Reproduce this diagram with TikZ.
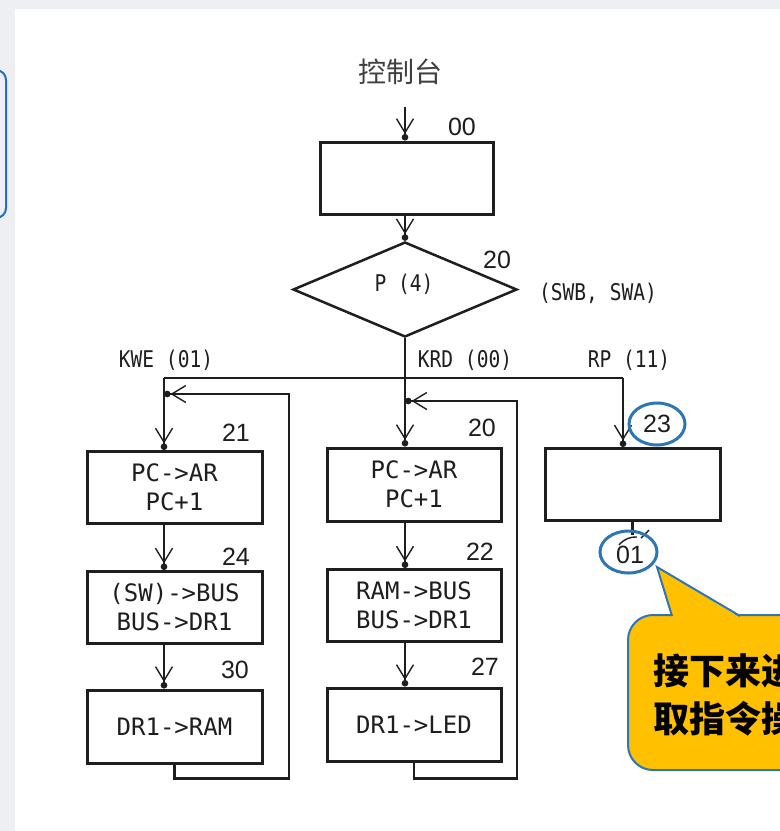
\documentclass[tikz,border=0pt]{standalone}
\usepackage{fontspec}
\usetikzlibrary{arrows.meta,shapes.geometric,calc}
\newfontfamily\cjkfont{Noto Sans CJK SC}
\newfontfamily\boxfont{DejaVu Sans Mono}
\newfontfamily\lblfont[FakeStretch=0.85]{DejaVu Sans Mono}
\newfontfamily\numfont{Liberation Sans}
\definecolor{ink}{HTML}{1E1E1E}
\definecolor{bggray}{HTML}{EDEFF2}
\definecolor{hiblue}{HTML}{2E75B6}
\definecolor{callyel}{HTML}{FFC000}
\definecolor{frameblue}{HTML}{1F6FCC}
\begin{document}
\begin{tikzpicture}[x=1pt,y=-1pt,
  stepbox/.style={draw=ink, line width=3pt, minimum width=175pt, minimum height=72pt, inner sep=0pt, align=center, font=\boxfont\fontsize{24}{29}\selectfont, text=ink},
  flow/.style={draw=ink, line width=2.5pt},
  arr/.style={flow, -{Straight Barb[length=14pt,width=17pt,line width=1.4pt]Circle[length=6.5pt]}},
  num/.style={font=\numfont\fontsize{25}{25}\selectfont, text=ink, inner sep=0pt},
  lbl/.style={font=\lblfont\fontsize{23}{23}\selectfont, text=ink, inner sep=0pt},
  ring/.style={draw=hiblue, line width=3pt},
]
\useasboundingbox (0,0) rectangle (780,831);
\clip (0,0) rectangle (780,831);
% background
\fill[bggray] (0,0) rectangle (780,831);
\fill[white] (15,9) rectangle (781,832);
\draw[frameblue, line width=2pt, rounded corners=10pt] (-30,70) rectangle (6,218);

% title
\node[font=\cjkfont\fontsize{28}{28}\selectfont, text=ink!85] (title) at (400,72) {控制台};

% boxes
\node[stepbox, minimum width=173pt] (b00) at (406.5,178) {};
\node[draw=ink, line width=2.5pt, shape=diamond, minimum width=224pt, minimum height=95pt, inner sep=0pt] (dia) at (405,289.5) {};
\node[lbl] (p4) at (404,284) {P (4)};

\node[stepbox] (b21) at (174.5,487.5) {PC->AR\\PC+1};
\node[stepbox] (b24) at (174.5,607.5) {(SW)->BUS\\BUS->DR1};
\node[stepbox, minimum height=73pt] (b30) at (174.5,726.5) {DR1->RAM};

\node[stepbox, minimum width=174pt, minimum height=73pt] (b20) at (414,484.5) {PC->AR\\PC+1};
\node[stepbox, minimum width=174pt] (b22) at (414,605.5) {RAM->BUS\\BUS->DR1};
\node[stepbox, minimum width=174pt, minimum height=73pt] (b27) at (414,724.5) {DR1->LED};

\node[stepbox] (b23) at (632.5,484.5) {};

% numbers
\node[num] (n00) at (462,127) {00};
\node[num] (n20a) at (497,260) {20};
\node[num] (n21) at (236,433) {21};
\node[num] (n20b) at (482,428) {20};
\node[num] (n23) at (657,424) {23};
\node[num] (n24) at (236,557) {24};
\node[num] (n22) at (480,552) {22};
\node[num] (n30) at (235,670) {30};
\node[num] (n27) at (485,667) {27};
\node[num] (n01) at (630,555) {01};

% labels
\node[lbl] (kwe) at (166,360) {KWE (01)};
\node[lbl] (krd) at (465,360) {KRD (00)};
\node[lbl] (rp) at (629,360) {RP (11)};
\node[lbl] (sw) at (598,293) {(SWB, SWA)};

% connectors
\coordinate (in0) at (405,107);
\draw[arr] (in0) -- (in0 |- b00.north);
\draw[arr] (b00.south -| dia.north) -- (dia.north);
\draw[arr] (dia.south) -- (dia.south |- b20.north);

\coordinate (busL) at (164,378);
\coordinate (busR) at (623,378);
\draw[flow] (busL) -- (busR);
\draw[arr] (busL) -- (busL |- b21.north);
\draw[arr] (busR) -- (busR |- b23.north);

\draw[arr] (busL |- b21.south) -- (busL |- b24.north);
\draw[arr] (busL |- b24.south) -- (busL |- b30.north);
\draw[arr] (dia.south |- b20.south) -- (dia.south |- b22.north);
\draw[arr] (dia.south |- b22.south) -- (dia.south |- b27.north);

\coordinate (retL) at (289,394);
\coordinate (retM) at (517,401);
\draw[arr] (b30.south) -- ++(0,14) -| (retL) -- (retL -| busL);
\draw[arr] (b27.south) -- ++(0,16) -| (retM) -- (retM -| dia.south);

\draw[flow] (b23.south) -- ++(0,13);
\draw[ink, line width=1.4pt] (619,545) to[bend left=25] (637,537);
\draw[ink, line width=1.4pt] (641,538) -- (649,530);

% callout
\filldraw[fill=callyel, draw=hiblue, line width=2pt, rounded corners=25pt] (628,615) rectangle (830,770);
\fill[callyel] (657,567) -- (672,617.5) -- (740,617.5) -- cycle;
\draw[hiblue, line width=2pt, line join=miter] (672,616) -- (657,567) -- (740,616);
\node[anchor=west, font=\cjkfont\bfseries\fontsize{36}{48}\selectfont, align=left, inner sep=0pt, text=black] (note) at (653,695) {接下来进入\\取指令操作};

% highlight rings
\draw[ring] (n23) ellipse [x radius=28, y radius=21];
\draw[ring] (628.5,552) ellipse [x radius=28.5, y radius=21];
\end{tikzpicture}
\end{document}
